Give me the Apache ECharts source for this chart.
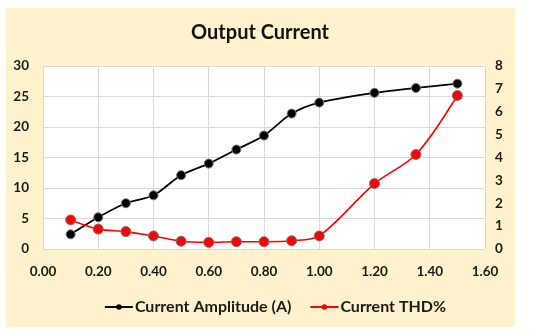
<!DOCTYPE html>
<html><head><meta charset="utf-8">
<script src="https://cdn.jsdelivr.net/npm/echarts@6/dist/echarts.min.js"></script>
<style>html,body{margin:0;padding:0;background:#fff}#c{width:550px;height:336px}</style>
</head><body><div id="c"></div>
<script>
const xValues = [0.1, 0.2, 0.3, 0.4, 0.5, 0.6, 0.7, 0.8, 0.9, 1.0, 1.2, 1.35, 1.5];
const amplitude = [2.4, 5.2, 7.5, 8.8, 12.1, 14.0, 16.3, 18.6, 22.2, 24.0, 25.6, 26.4, 27.1];
const thd = [1.27, 0.87, 0.76, 0.57, 0.34, 0.29, 0.32, 0.32, 0.36, 0.57, 2.86, 4.13, 6.71];
const seriesNames = ['Current Amplitude (A)', 'Current THD%'];
const titleText = 'Output Current';

const font = 'Lato, "Open Sans", sans-serif';
const chart = echarts.init(document.getElementById('c'));
const lbl = {color: '#1a1a1a', fontWeight: 'bold', fontSize: 13.5, fontFamily: font};
chart.setOption({
  animation: false,
  graphic: [{type: 'rect', z: -10, shape: {x: 6, y: 8, width: 509, height: 319}, style: {fill: '#FFF2CC'}}],
  title: {text: titleText, top: 23, left: 260, textAlign: 'center', padding: 0,
    textStyle: {fontFamily: font, fontWeight: 'bold', fontSize: 20, color: '#111'}},
  grid: {left: 43, right: 65, top: 66, bottom: 87, show: true, backgroundColor: '#fff', borderWidth: 0},
  legend: {
    top: 294, left: 'center', itemGap: 18, itemWidth: 28, itemHeight: 7,
    itemStyle: {borderWidth: 0},
    textStyle: {fontFamily: font, fontWeight: 'bold', fontSize: 16, color: '#1a1a1a', padding: [0, 0, 0, -3]},
    data: seriesNames
  },
  xAxis: {
    type: 'value', min: 0, max: 1.6, interval: 0.2,
    axisLine: {show: false}, axisTick: {show: false},
    axisLabel: Object.assign({}, lbl, {margin: 16, formatter: v => v.toFixed(2)}),
    splitLine: {lineStyle: {color: '#d9d9d9'}}
  },
  yAxis: [
    {type: 'value', min: 0, max: 30, interval: 5, axisLine: {show: false}, axisTick: {show: false},
     axisLabel: Object.assign({}, lbl, {margin: 14}), splitLine: {lineStyle: {color: '#d9d9d9'}}},
    {type: 'value', min: 0, max: 8, interval: 1, axisLine: {show: false}, axisTick: {show: false},
     axisLabel: Object.assign({}, lbl, {margin: 10}), splitLine: {show: false}}
  ],
  series: [
    {name: seriesNames[0], type: 'line', yAxisIndex: 0, smooth: 0.3,
     data: xValues.map((x, i) => [x, amplitude[i]]),
     symbol: 'circle', symbolSize: 9,
     lineStyle: {color: '#000', width: 1.8},
     itemStyle: {color: '#000', borderColor: '#777', borderWidth: 1}},
    {name: seriesNames[1], type: 'line', yAxisIndex: 1, smooth: 0.3,
     data: xValues.map((x, i) => [x, thd[i]]),
     symbol: 'circle', symbolSize: 10,
     lineStyle: {color: '#ff0000', width: 1.6},
     itemStyle: {color: '#ff0000', borderColor: '#777', borderWidth: 1}}
  ]
});
</script></body></html>
